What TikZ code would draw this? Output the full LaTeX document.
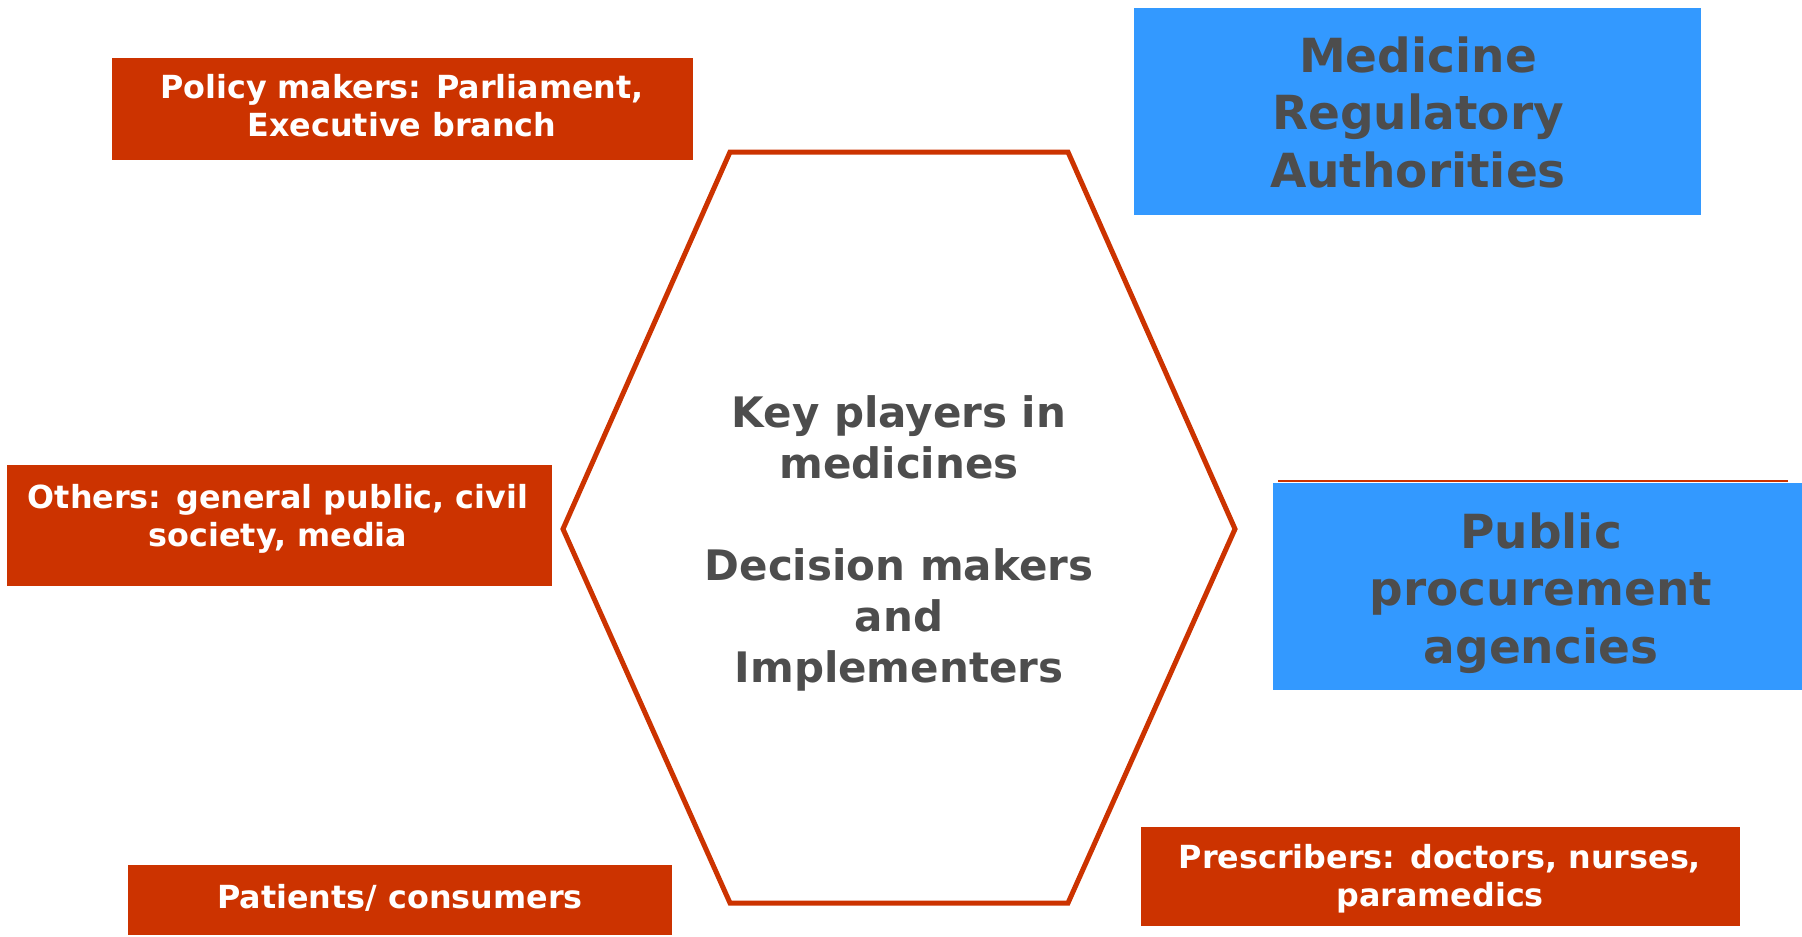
\documentclass[tikz,border=0pt]{standalone}
\usepackage{fontspec}
\setmainfont{DejaVu Sans}
\definecolor{boxred}{HTML}{CC3300}
\definecolor{boxblue}{HTML}{3399FF}
\definecolor{txtgray}{HTML}{4D4D4D}
\begin{document}
\begin{tikzpicture}[x=1pt,y=-1pt,
  redbox/.style={fill=boxred,draw=none,inner sep=0pt,rectangle},
  bluebox/.style={fill=boxblue,draw=none,inner sep=0pt,rectangle},
  redtext/.style={text=white,font=\bfseries\fontsize{31.8}{38}\selectfont,align=center,inner sep=0pt},
  bluetext/.style={text=txtgray,font=\bfseries\fontsize{47}{57.5}\selectfont,align=center,inner sep=0pt},
  hextext/.style={text=txtgray,font=\bfseries\fontsize{42}{51}\selectfont,align=center,inner sep=0pt},
  hexline/.style={draw=boxred,line width=5pt,line join=miter}]
\useasboundingbox (0,0) rectangle (1802,937);
\fill[white] (0,0) rectangle (1802,937);
% boxes
\node[redbox,minimum width=581,minimum height=102] (policy) at (402.5,109) {};
\node[bluebox,minimum width=567,minimum height=207] (mra) at (1417.5,111.5) {};
\node[redbox,minimum width=545,minimum height=121] (others) at (279.5,525.5) {};
\draw[boxred,line width=1.8pt] (1278,481) -- (1788,481);
\node[bluebox,minimum width=529,minimum height=207] (ppa) at (1537.5,586.5) {};
\node[redbox,minimum width=599,minimum height=99] (presc) at (1440.5,876.5) {};
\node[redbox,minimum width=544,minimum height=70] (patients) at (400,900) {};
% hexagon
\coordinate (h1) at (730,152);
\coordinate (h2) at (1068,152);
\coordinate (h3) at (1235,529);
\coordinate (h4) at (1068,903);
\coordinate (h5) at (730,903);
\coordinate (h6) at (563,529);
\draw[hexline] (h1) -- (h2) -- (h3) -- (h4) -- (h5) -- (h6) -- cycle;
% texts
\node[redtext] (policyT) at (402,106) {Policy makers: Parliament,\\Executive branch};
\node[bluetext] (mraT) at (1418,112) {Medicine\\Regulatory\\Authorities};
\node[redtext] (othersT) at (278,518.5) {Others: general public, civil\\society, media};
\node[bluetext] (ppaT) at (1541,593) {Public\\procurement\\agencies};
\node[redtext] (prescT) at (1440,879) {Prescribers: doctors, nurses,\\paramedics};
\node[redtext] (patientsT) at (400,897.5) {Patients/ consumers};
\node[hextext] (hexT) at (899,543.5) {Key players in\\medicines\\[51pt]Decision makers\\and\\Implementers};
\end{tikzpicture}
\end{document}
